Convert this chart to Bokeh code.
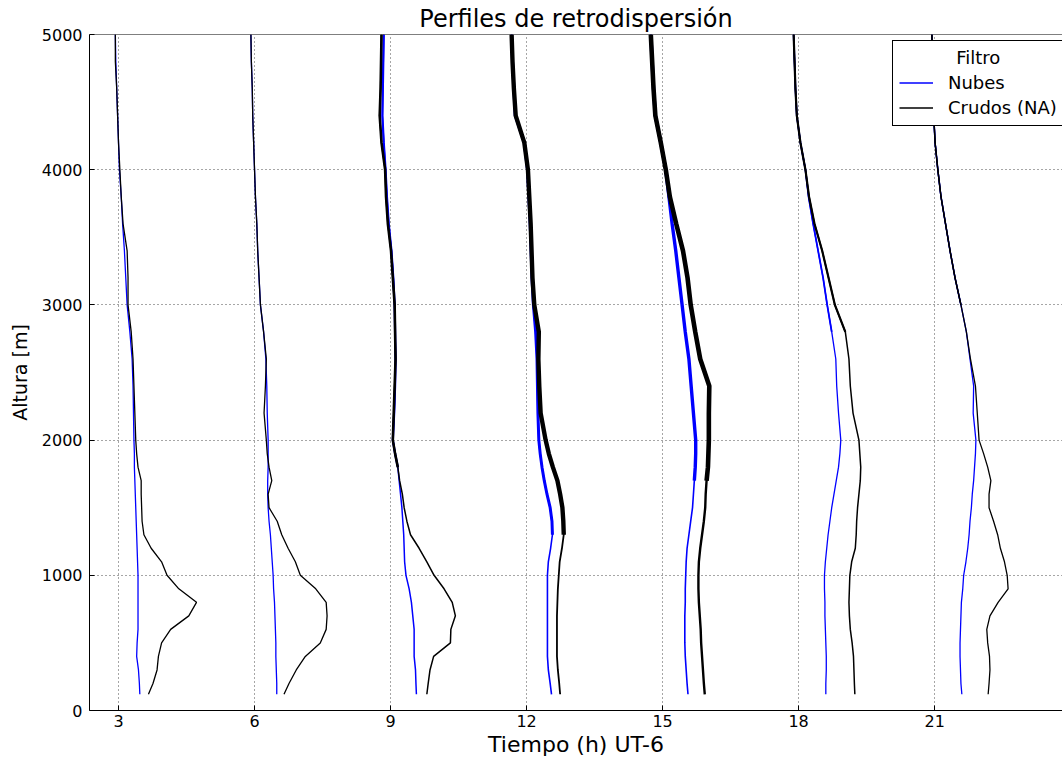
from bokeh.plotting import figure
from bokeh.models import (Range1d, FixedTicker, Legend, LegendItem, Span,
                          ColumnDataSource)
from bokeh.embed import file_html
from bokeh.resources import INLINE

# ---------------- data ----------------
alt_m = [120, 200, 300, 400, 500, 600, 700, 800, 900, 1000, 1100, 1200, 1300,
         1400, 1500, 1600, 1700, 1800, 1900, 2000, 2200, 2400, 2600, 2800, 3000,
         3200, 3400, 3600, 3800, 4000, 4200, 4400, 4600, 4800, 5000]

x_ticks = [3, 6, 9, 12, 15, 18, 21]
y_ticks = [0, 1000, 2000, 3000, 4000, 5000]

# Profile positions on the time axis (h) for each filter
nubes_03 = [3.47, 3.46, 3.44, 3.40, 3.41, 3.43, 3.43, 3.43, 3.43, 3.43, 3.42, 3.41, 3.40,
            3.39, 3.38, 3.37, 3.36, 3.35, 3.35, 3.34, 3.33, 3.32, 3.30, 3.25, 3.19,
            3.16, 3.13, 3.09, 3.06, 3.02, 3.00, 2.98, 2.96, 2.94, 2.93]
crudos_03 = [3.66, 3.76, 3.85, 3.88, 3.95, 4.15, 4.55, 4.72, 4.33, 4.07, 3.95, 3.72, 3.56,
             3.52, 3.51, 3.50, 3.50, 3.43, 3.40, 3.38, 3.36, 3.34, 3.32, 3.28, 3.21,
             3.21, 3.19, 3.10, 3.06, 3.03, 3.00, 2.98, 2.96, 2.93, 2.93]

nubes_06 = [6.49, 6.49, 6.48, 6.47, 6.47, 6.46, 6.45, 6.44, 6.42, 6.41, 6.39, 6.37, 6.35,
            6.32, 6.30, 6.29, 6.29, 6.30, 6.30, 6.30, 6.28, 6.27, 6.25, 6.20, 6.13,
            6.10, 6.07, 6.05, 6.02, 6.00, 5.98, 5.96, 5.95, 5.93, 5.92]
crudos_06 = [6.65, 6.76, 6.92, 7.12, 7.45, 7.58, 7.60, 7.58, 7.35, 7.01, 6.90, 6.74, 6.60,
             6.50, 6.32, 6.30, 6.38, 6.32, 6.28, 6.26, 6.21, 6.24, 6.26, 6.20, 6.13,
             6.10, 6.07, 6.05, 6.02, 6.00, 5.98, 5.96, 5.95, 5.93, 5.92]

nubes_09 = [9.57, 9.56, 9.55, 9.52, 9.52, 9.52, 9.49, 9.46, 9.41, 9.34, 9.31, 9.30, 9.29,
            9.27, 9.25, 9.22, 9.19, 9.16, 9.10, 9.05, 9.08, 9.10, 9.11, 9.10, 9.09,
            9.06, 9.02, 8.96, 8.92, 8.89, 8.85, 8.82, 8.83, 8.84, 8.85]
crudos_09 = [9.80, 9.83, 9.87, 9.95, 10.32, 10.33, 10.43, 10.36, 10.18, 9.96, 9.80, 9.63, 9.44,
             9.36, 9.30, 9.26, 9.20, 9.16, 9.10, 9.05, 9.07, 9.09, 9.11, 9.10, 9.09,
             9.05, 9.01, 8.94, 8.90, 8.88, 8.80, 8.76, 8.78, 8.79, 8.80]

nubes_12 = [12.55, 12.52, 12.48, 12.46, 12.46, 12.46, 12.46, 12.46, 12.46, 12.46, 12.48, 12.53, 12.57,
            12.56, 12.52, 12.45, 12.39, 12.34, 12.30, 12.27, 12.25, 12.24, 12.23, 12.20, 12.15,
            12.12, 12.10, 12.08, 12.05, 12.02, 11.95, 11.75, 11.72, 11.69, 11.67]
crudos_12 = [12.74, 12.72, 12.69, 12.67, 12.67, 12.67, 12.67, 12.68, 12.69, 12.71, 12.73, 12.78, 12.82,
             12.81, 12.79, 12.74, 12.68, 12.58, 12.49, 12.42, 12.31, 12.28, 12.26, 12.27, 12.17,
             12.13, 12.11, 12.09, 12.06, 12.03, 11.95, 11.76, 11.72, 11.69, 11.67]

nubes_15 = [15.56, 15.54, 15.52, 15.50, 15.49, 15.49, 15.49, 15.50, 15.50, 15.51, 15.52, 15.54, 15.58,
            15.62, 15.66, 15.68, 15.70, 15.72, 15.73, 15.73, 15.68, 15.63, 15.58, 15.50, 15.43,
            15.36, 15.29, 15.21, 15.14, 15.07, 14.96, 14.84, 14.80, 14.77, 14.74]
crudos_15 = [15.93, 15.91, 15.89, 15.87, 15.85, 15.84, 15.82, 15.80, 15.79, 15.79, 15.80, 15.83, 15.87,
             15.91, 15.94, 15.95, 15.97, 16.00, 16.01, 16.02, 16.02, 16.03, 15.83, 15.72, 15.62,
             15.55, 15.45, 15.30, 15.16, 15.07, 14.96, 14.84, 14.80, 14.77, 14.74]

nubes_18 = [18.60, 18.60, 18.61, 18.61, 18.60, 18.59, 18.58, 18.58, 18.57, 18.57, 18.59, 18.62, 18.65,
            18.69, 18.73, 18.78, 18.83, 18.88, 18.91, 18.93, 18.88, 18.84, 18.82, 18.73, 18.63,
            18.54, 18.43, 18.32, 18.22, 18.15, 18.04, 17.96, 17.93, 17.91, 17.89]
crudos_18 = [19.24, 19.23, 19.22, 19.21, 19.18, 19.14, 19.12, 19.11, 19.12, 19.13, 19.17, 19.25, 19.27,
             19.28, 19.30, 19.33, 19.36, 19.37, 19.35, 19.33, 19.20, 19.14, 19.11, 19.03, 18.80,
             18.66, 18.52, 18.35, 18.23, 18.15, 18.04, 17.96, 17.93, 17.91, 17.89]

nubes_21 = [21.60, 21.58, 21.57, 21.56, 21.56, 21.57, 21.58, 21.59, 21.62, 21.64, 21.69, 21.73, 21.76,
            21.78, 21.81, 21.83, 21.86, 21.88, 21.90, 21.91, 21.85, 21.86, 21.78, 21.70, 21.58,
            21.45, 21.34, 21.24, 21.14, 21.07, 21.01, 20.98, 20.96, 20.95, 20.94]
crudos_21 = [22.18, 22.20, 22.22, 22.21, 22.17, 22.15, 22.22, 22.40, 22.62, 22.60, 22.54, 22.45, 22.39,
             22.30, 22.20, 22.20, 22.24, 22.17, 22.08, 21.98, 21.94, 21.90, 21.79, 21.70, 21.58,
             21.45, 21.34, 21.24, 21.14, 21.07, 21.01, 20.98, 20.96, 20.95, 20.94]

nubes_all = [nubes_03, nubes_06, nubes_09, nubes_12, nubes_15, nubes_18, nubes_21]
crudos_all = [crudos_03, crudos_06, crudos_09, crudos_12, crudos_15, crudos_18, crudos_21]

# ---------------- styles ----------------
BLUE = "#0000ff"
BLACK = "#000000"
FONT = "DejaVu Sans"
base_w_blue = [1.3, 1.3, 1.5, 1.6, 1.6, 1.3, 1.3]
base_w_black = [1.3, 1.3, 1.5, 1.8, 2.4, 1.5, 1.3]
thick_w_blue = [1.3, 1.3, 2.2, 3.0, 3.4, 1.8, 1.5]
thick_w_black = [1.3, 1.3, 2.6, 4.4, 4.6, 2.2, 1.5]
thick_from = [5000, 5000, 1800, 1250, 1700, 2800, 3000]

p = figure(width=1062, height=761,
           x_range=Range1d(2.36, 23.82), y_range=Range1d(0, 5000),
           output_backend="svg", toolbar_location=None,
           min_border_left=89, min_border_right=0, min_border_top=34, min_border_bottom=51,
           title="Perfiles de retrodispersión")
p.background_fill_color = "white"
p.border_fill_color = "white"
p.outline_line_color = None

p.title.text_font = FONT
p.title.text_font_size = "24px"
p.title.text_font_style = "normal"
p.title.text_color = BLACK
p.title.align = "center"
p.title.offset = 5
p.title.standoff = 4

for ax in (p.xaxis[0], p.yaxis[0]):
    ax.axis_line_color = BLACK
    ax.axis_line_width = 1
    ax.major_tick_in = 5
    ax.major_tick_out = 0
    ax.minor_tick_line_color = None
    ax.major_tick_line_color = BLACK
    ax.major_label_text_font = FONT
    ax.major_label_text_font_size = "16px"
    ax.major_label_text_color = BLACK
    ax.axis_label_text_font = FONT
    ax.axis_label_text_font_style = "normal"
    ax.axis_label_text_color = BLACK

p.xaxis.ticker = FixedTicker(ticks=x_ticks)
p.yaxis.ticker = FixedTicker(ticks=y_ticks)
p.xaxis.axis_label = "Tiempo (h) UT-6"
p.yaxis.axis_label = "Altura [m]"
p.xaxis.axis_label_text_font_size = "22px"
p.yaxis.axis_label_text_font_size = "19px"
p.xaxis.major_label_standoff = 4
p.xaxis.axis_label_standoff = 2
p.yaxis.major_label_standoff = 7
p.yaxis.axis_label_standoff = 8

# top border of the frame (the right one is cropped in the reference)
p.add_layout(Span(location=y_ticks[-1], dimension="width", line_color=BLACK, line_width=1))

for g, t in ((p.xgrid[0], x_ticks), (p.ygrid[0], y_ticks)):
    g.ticker = FixedTicker(ticks=t)
    g.grid_line_color = BLACK
    g.grid_line_alpha = 0.7
    g.grid_line_dash = "1 3"
    g.grid_line_width = 1

legend_blue = None
legend_black = None
for i in range(len(x_ticks)):
    src = ColumnDataSource(dict(alt=alt_m, nubes=nubes_all[i], crudos=crudos_all[i]))
    up = [k for k, a in enumerate(alt_m) if a >= thick_from[i]]
    src_up = ColumnDataSource(dict(alt=[alt_m[k] for k in up],
                                   nubes=[nubes_all[i][k] for k in up],
                                   crudos=[crudos_all[i][k] for k in up]))
    rb = p.line("nubes", "alt", source=src, line_color=BLUE, line_width=base_w_blue[i])
    if len(up) > 1 and thick_w_blue[i] > base_w_blue[i]:
        p.line("nubes", "alt", source=src_up, line_color=BLUE, line_width=thick_w_blue[i])
    rk = p.line("crudos", "alt", source=src, line_color=BLACK, line_width=base_w_black[i])
    if len(up) > 1 and thick_w_black[i] > base_w_black[i]:
        p.line("crudos", "alt", source=src_up, line_color=BLACK, line_width=thick_w_black[i])
    if i == 0:
        legend_blue, legend_black = rb, rk

NBSP = "\u00a0"
legend = Legend(items=[LegendItem(label="Nubes", renderers=[legend_blue]),
                       LegendItem(label="Crudos (NA)", renderers=[legend_black])],
                location=(803, 584), title=NBSP * 10 + "Filtro",
                title_text_font=FONT, title_text_font_size="18px",
                title_text_font_style="normal", title_text_color=BLACK,
                title_standoff=3,
                label_text_font=FONT, label_text_font_size="18px", label_text_color=BLACK,
                border_line_color=BLACK, border_line_width=1, border_line_alpha=1,
                background_fill_color="white", background_fill_alpha=1,
                padding=6, spacing=2, label_height=23, glyph_height=23, glyph_width=34,
                label_standoff=15, margin=0)
p.add_layout(legend)

open("out.html", "w").write(file_html(p, INLINE))
